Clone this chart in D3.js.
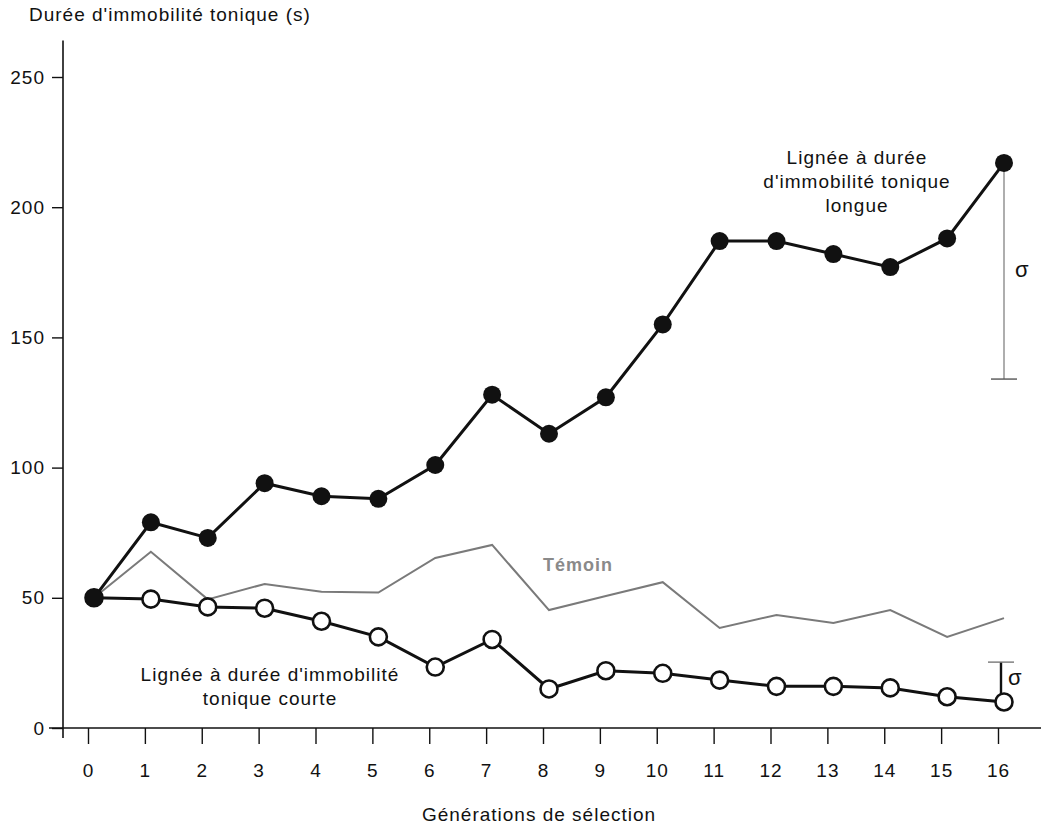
<!DOCTYPE html>
<html>
<head>
<meta charset="utf-8">
<script src="https://cdn.jsdelivr.net/npm/d3@7"></script>
<style>
  html, body { margin: 0; padding: 0; background: #fff; }
  svg text { font-family: "Liberation Sans", Arial, Helvetica, sans-serif; fill: #111; }
</style>
</head>
<body>
<svg id="chart" width="1061" height="830"></svg>
<script>
// Generations of selection (x axis)
const generations = [0, 1, 2, 3, 4, 5, 6, 7, 8, 9, 10, 11, 12, 13, 14, 15, 16];
// Mean tonic immobility duration (s), line selected for long duration
const longLine = [50, 79, 73, 94, 89, 88, 101, 128, 113, 127, 155, 187, 187, 182, 177, 188, 217];
// Line selected for short duration
const shortLine = [50, 49.5, 46.5, 46, 41, 35, 23.4, 34, 15, 22, 21, 18.4, 16, 16, 15.4, 12, 10];
// Unselected control line
const controlLine = [50, 67.7, 49.4, 55.3, 52.3, 52, 65.3, 70.3, 45.3, 50.7, 56, 38.4, 43.4, 40.3, 45.3, 35, 42.2];
// Standard deviation at generation 16 for each selected line
const sigmaLong = 83;
const sigmaShort = 15.3;
// Y axis tick values
const yTicks = [0, 50, 100, 150, 200, 250];

const svg = d3.select("#chart");
const x = d3.scaleLinear().domain([0, 16]).range([94, 1004]);
const y = d3.scaleLinear().domain([0, 250]).range([728, 77]);
const yAxisX = 63;
const FS = "19px";
const LS = "1px";

// Y axis
svg.append("line")
  .attr("x1", yAxisX).attr("x2", yAxisX)
  .attr("y1", y(264)).attr("y2", y(0) + 10)
  .attr("stroke", "#111").attr("stroke-width", 1.6);
const yAx = svg.append("g").attr("transform", `translate(${yAxisX},0)`)
  .call(d3.axisLeft(y).tickValues(yTicks).tickSize(11).tickPadding(7));
yAx.select(".domain").remove();
yAx.selectAll(".tick line").attr("stroke", "#111").attr("stroke-width", 1.4);
yAx.selectAll(".tick text")
  .style("font-size", FS).style("letter-spacing", LS)
  .attr("font-family", null).attr("fill", "#111");

// X axis
svg.append("line")
  .attr("x1", 49).attr("x2", 1041)
  .attr("y1", y(0)).attr("y2", y(0))
  .attr("stroke", "#111").attr("stroke-width", 1.6);
const xAx = svg.append("g").attr("transform", `translate(-6,${y(0)})`)
  .call(d3.axisBottom(x).tickValues(generations).tickFormat(d3.format("d")).tickSize(16).tickPadding(20));
xAx.select(".domain").remove();
xAx.selectAll(".tick line").attr("stroke", "#111").attr("stroke-width", 1.4);
xAx.selectAll(".tick text")
  .style("font-size", FS).style("letter-spacing", LS)
  .attr("font-family", null).attr("fill", "#111");

// Axis titles
svg.append("text").attr("x", 29).attr("y", 21)
  .style("font-size", FS).style("letter-spacing", LS)
  .text("Durée d'immobilité tonique (s)");
svg.append("text").attr("x", 539).attr("y", 821).attr("text-anchor", "middle")
  .style("font-size", FS).style("letter-spacing", LS)
  .text("Générations de sélection");

const line = d3.line().x((d, i) => x(generations[i])).y(d => y(d));

// Control line
svg.append("path").datum(controlLine)
  .attr("d", line).attr("fill", "none")
  .attr("stroke", "#7a7a7a").attr("stroke-width", 2).attr("stroke-linejoin", "miter");
svg.append("text").attr("x", 578).attr("y", 571).attr("text-anchor", "middle")
  .style("font-size", "18px").style("letter-spacing", LS).style("font-weight", "bold")
  .style("fill", "#8a8a8a")
  .text("Témoin");

// Standard deviation bar, long line
const xs = x(16);
svg.append("line").attr("x1", xs).attr("x2", xs)
  .attr("y1", y(longLine[16])).attr("y2", y(longLine[16] - sigmaLong))
  .attr("stroke", "#9a9a9a").attr("stroke-width", 1.6);
svg.append("line").attr("x1", xs - 13).attr("x2", xs + 13)
  .attr("y1", y(longLine[16] - sigmaLong)).attr("y2", y(longLine[16] - sigmaLong))
  .attr("stroke", "#555").attr("stroke-width", 1.4);
svg.append("text").attr("x", xs + 11).attr("y", 277)
  .style("font-size", "22px").text("σ");

// Standard deviation bar, short line
svg.append("line").attr("x1", xs - 3).attr("x2", xs - 3)
  .attr("y1", y(shortLine[16])).attr("y2", y(shortLine[16] + sigmaShort))
  .attr("stroke", "#111").attr("stroke-width", 2.4);
svg.append("line").attr("x1", xs - 16).attr("x2", xs + 10)
  .attr("y1", y(shortLine[16] + sigmaShort)).attr("y2", y(shortLine[16] + sigmaShort))
  .attr("stroke", "#777").attr("stroke-width", 1.4);
svg.append("text").attr("x", xs + 4).attr("y", 685)
  .style("font-size", "22px").text("σ");

// Short-duration line
svg.append("path").datum(shortLine)
  .attr("d", line).attr("fill", "none")
  .attr("stroke", "#111").attr("stroke-width", 3);
svg.append("g").selectAll("circle").data(shortLine)
  .join("circle")
  .attr("cx", (d, i) => x(generations[i])).attr("cy", d => y(d))
  .attr("r", 8.5).attr("fill", "#fff").attr("stroke", "#111").attr("stroke-width", 2.6);

// Long-duration line
svg.append("path").datum(longLine)
  .attr("d", line).attr("fill", "none")
  .attr("stroke", "#111").attr("stroke-width", 3);
svg.append("g").selectAll("circle").data(longLine)
  .join("circle")
  .attr("cx", (d, i) => x(generations[i])).attr("cy", d => y(d))
  .attr("r", 9).attr("fill", "#111");

// Series labels
const longLabel = svg.append("text").attr("text-anchor", "middle")
  .style("font-size", FS).style("letter-spacing", LS);
["Lignée à durée", "d'immobilité tonique", "longue"].forEach((t, i) => {
  longLabel.append("tspan").attr("x", 857).attr("y", 164 + i * 24).text(t);
});
const shortLabel = svg.append("text").attr("text-anchor", "middle")
  .style("font-size", FS).style("letter-spacing", LS);
["Lignée à durée d'immobilité", "tonique courte"].forEach((t, i) => {
  shortLabel.append("tspan").attr("x", 270).attr("y", 681 + i * 24).text(t);
});
</script>
</body>
</html>
